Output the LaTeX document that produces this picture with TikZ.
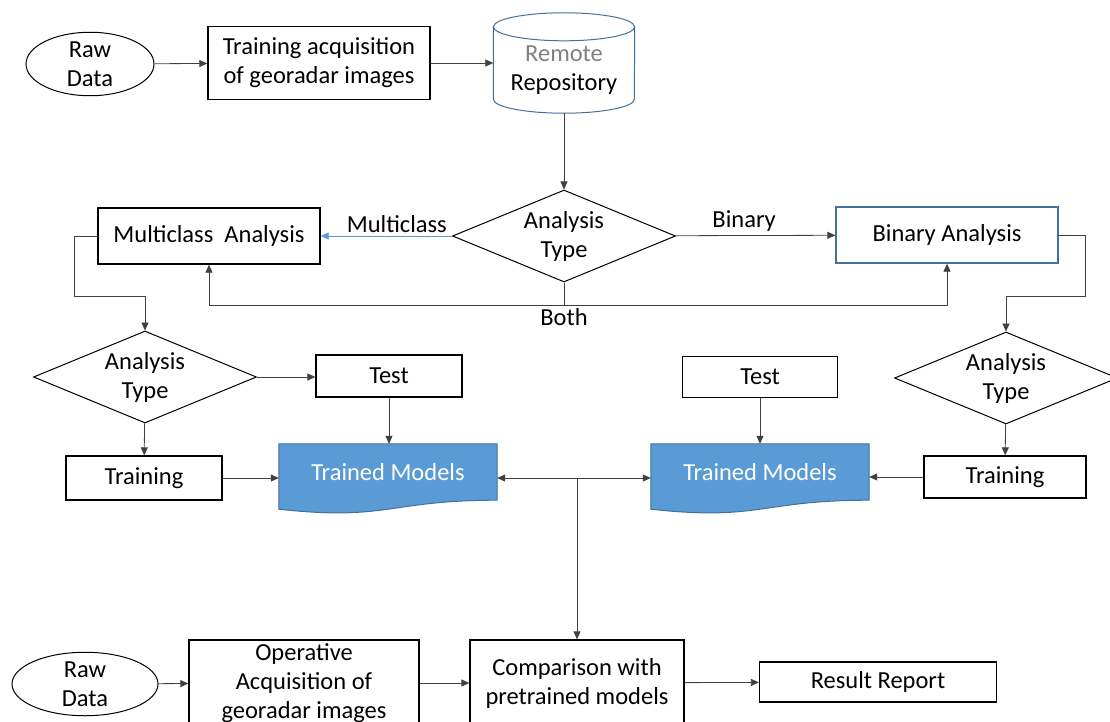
\documentclass[tikz,border=0pt]{standalone}
\usepackage{fontspec}
\setmainfont{Carlito}
\usetikzlibrary{shapes.geometric,arrows.meta,calc,backgrounds}
\definecolor{officeblue}{HTML}{5B9BD5}
\definecolor{edgeblue}{HTML}{41719C}
\definecolor{linegray}{HTML}{404040}
\tikzstyle{rawdata} = [ellipse, draw=black, line width=1pt, minimum width=128pt, minimum height=58pt, inner sep=0pt, align=center]
\tikzstyle{process} = [rectangle, draw=black, line width=1.3pt, minimum width=222pt, minimum height=56pt, inner sep=0pt, align=center]
\tikzstyle{decision} = [diamond, draw=black, line width=1pt, minimum width=223pt, minimum height=92pt, aspect=2.4, inner sep=0pt, align=center]
\tikzstyle{repository} = [rectangle, minimum width=141pt, minimum height=86pt, inner sep=0pt, align=center]
\tikzstyle{trained} = [rectangle, minimum width=218pt, minimum height=56pt, text=white]
\tikzstyle{arrow} = [line width=0.8pt, draw=linegray, -{Triangle[length=8pt,width=7pt]}]
\tikzstyle{link} = [line width=0.8pt, draw=linegray]

\begin{document}
\begin{tikzpicture}[x=1pt, y=-1pt, font=\fontsize{24.5}{29}\selectfont]
    \useasboundingbox (0,0) rectangle (1110,722);
    \clip (0,0) rectangle (1110,722);
    % training chain
    \node (raw1)[rawdata] at (90,64) {Raw\\Data};
    \node (trainacq)[process, minimum height=73pt] at (319,63) {Training acquisition\\of georadar images};
    \node (repo)[repository] at (564,70) {\textcolor{gray}{Remote}\\Repository};
    \node (type1)[decision] at (564,236) {Analysis\\Type};
    \node (multi)[process] at (209,236) {Multiclass~~Analysis};
    \node (binary)[process, draw=edgeblue] at (947,235) {Binary Analysis};
    % multiclass side
    \node (type2)[decision] at (145,377) {Analysis\\Type};
    \node (test1)[process, minimum width=146pt, minimum height=42pt] at (389,376) {Test};
    \node (train1)[process, minimum width=156pt, minimum height=44pt] at (144,478) {Training};
    \node (tm1)[trained] at (388,472) {Trained Models};
    % binary side
    \node (type3)[decision] at (1006,378) {Analysis\\Type};
    \node (test2)[process, minimum width=155pt, minimum height=41pt] at (760,377) {Test};
    \node (train2)[process, minimum width=162pt, minimum height=42pt] at (1005,477) {Training};
    \node (tm2)[trained] at (760,472) {Trained Models};
    % operative chain
    \node (raw2)[rawdata, minimum width=146pt, minimum height=56pt] at (85,684) {Raw\\Data};
    \node (oper)[process, minimum width=230pt, minimum height=86pt] at (304,683) {Operative\\Acquisition of\\georadar images};
    \node (comp)[process, minimum width=214pt, minimum height=86pt] at (577,683) {Comparison with\\pretrained models};
    \node (report)[process, minimum width=237pt, minimum height=40pt] at (878,682) {Result Report};

    % cylinder outline round the repository
    \draw[edgeblue, line width=1pt] (repo.north west) -- ($(repo.south west)+(0,-14)$) arc[start angle=180, end angle=360, x radius=70.5pt, y radius=14pt] -- (repo.north east);
    \draw[edgeblue, line width=1pt] (repo.north) ellipse [x radius=70.5pt, y radius=14pt];

    \begin{scope}[on background layer]
        \foreach \m in {tm1,tm2}
            \filldraw[fill=officeblue, draw=edgeblue, line width=1pt] (\m.north west) -- (\m.north east) -- (\m.south east) .. controls (\m.south) and ($(\m.south)+(0,21)$) .. ($(\m.south west)+(0,9)$) -- cycle;
    \end{scope}

    \draw [arrow] (raw1) -- (trainacq);
    \draw [arrow] (trainacq) -- (trainacq -| repo.west);
    \draw [arrow] (repo) -- (type1);
    \draw [arrow, draw=officeblue] (type1) -- node[above, pos=0.42, text=black]{Multiclass} (multi);
    \draw [arrow] (type1) -- node[above, pos=0.43]{Binary} (binary);
    \coordinate (both) at (564,305);
    \draw [link] (type1) -- (both) node[below]{Both};
    \draw [arrow] (both) -| (multi);
    \draw [arrow] (both) -| (binary);
    \draw [arrow] (multi.west) -- ++(-23,0) |- ($(type2.north)+(0,-34)$) -- (type2.north);
    \draw [arrow] (binary.east) -- ++(27,0) |- ($(type3.north)+(0,-35)$) -- (type3.north);
    \draw [arrow] (type2.east) -- (type2.east -| test1.west);
    \draw [arrow] (type2) -- (train1);
    \draw [arrow] (test1) -- (test1 |- tm1.north);
    \draw [arrow] (train1) -- (train1 -| tm1.west);
    \draw [arrow] (type3) -- (train2);
    \draw [arrow] (test2) -- (test2 |- tm2.north);
    \draw [arrow] (train2) -- (train2 -| tm2.east);
    \coordinate (hub) at (577,478);
    \draw [arrow] (hub) -- (hub -| tm1.east);
    \draw [arrow] (hub) -- (hub -| tm2.west);
    \draw [arrow] (hub) -- (comp);
    \draw [arrow] (raw2) -- (oper);
    \draw [arrow] (oper) -- (comp);
    \draw [arrow] (comp) -- (report);
\end{tikzpicture}
\end{document}
